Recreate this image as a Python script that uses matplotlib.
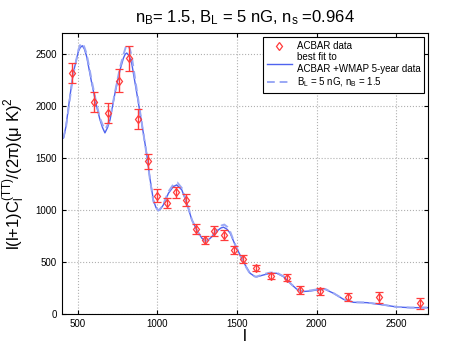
import matplotlib
matplotlib.use("Agg")
import matplotlib.pyplot as plt
from matplotlib.lines import Line2D

plt.rcParams['font.family'] = ['Liberation Sans', 'DejaVu Sans']
plt.rcParams['mathtext.default'] = 'regular'

# ACBAR band powers
acbar_l = [465, 603, 691, 758, 819, 880, 939, 999, 1060, 1119, 1180, 1241, 1300,
           1358, 1421, 1482, 1540, 1618, 1712, 1813, 1897, 2018, 2194, 2392, 2650]
acbar_cl = [2314, 2038, 1930, 2240, 2455, 1875, 1465, 1138, 1064, 1170, 1093, 820, 711,
            798, 760, 615, 526, 442, 365, 349, 231, 218, 163, 160, 103]
acbar_err = [96, 96, 95, 110, 117, 95, 69, 60, 50, 52, 56, 48, 38,
             45, 48, 38, 38, 29, 30, 33, 35, 35, 37, 50, 51]

# best fit ACBAR + WMAP 5-year
fit_l = [400, 410, 425, 450, 471, 503, 515, 528, 541, 555, 587, 618, 639, 655, 670, 686,
         702, 733, 765, 786, 797, 807, 822, 838, 870, 901, 933, 953, 974, 990, 1006,
         1020, 1037, 1069, 1100, 1121, 1153, 1184, 1216, 1247, 1279, 1300, 1320, 1342,
         1383, 1398, 1415, 1436, 1457, 1488, 1519, 1551, 1582, 1613, 1624, 1666, 1708,
         1750, 1792, 1834, 1876, 1908, 1960, 2002, 2054, 2106, 2169, 2232, 2316, 2421,
         2505, 2589, 2704]
fit_cl = [1700, 1690, 1800, 2090, 2317, 2522, 2560, 2577, 2545, 2474, 2218, 1993, 1865,
          1790, 1740, 1790, 1865, 2122, 2346, 2458, 2495, 2507, 2480, 2410, 2122, 1834,
          1530, 1300, 1096, 1025, 993, 1010, 1048, 1160, 1224, 1240, 1192, 1064, 904,
          808, 728, 702, 712, 743, 808, 826, 834, 815, 776, 663, 567, 471, 391, 359,
          357, 375, 391, 391, 359, 295, 237, 215, 221, 231, 237, 199, 141, 112, 109, 87,
          67, 61, 61]

# magnetic field model B_L = 5 nG, n_B = 1.5
mag_l = [400, 410, 425, 450, 471, 503, 513, 525, 539, 555, 587, 618, 639, 656, 672, 688,
         702, 733, 765, 786, 800, 813, 827, 840, 870, 901, 933, 953, 974, 990, 1006,
         1020, 1037, 1069, 1100, 1125, 1153, 1184, 1216, 1247, 1279, 1302, 1322, 1342,
         1383, 1402, 1420, 1440, 1457, 1488, 1519, 1551, 1582, 1613, 1624, 1666, 1708,
         1750, 1792, 1834, 1876, 1908, 1960, 2002, 2054, 2106, 2169, 2232, 2316, 2421,
         2505, 2589, 2704]
mag_cl = [1710, 1700, 1790, 2070, 2300, 2535, 2580, 2603, 2570, 2500, 2240, 2010, 1880,
          1815, 1775, 1820, 1880, 2130, 2370, 2490, 2560, 2587, 2545, 2460, 2150, 1840,
          1520, 1290, 1085, 1020, 995, 1015, 1055, 1175, 1245, 1262, 1210, 1075, 905,
          805, 720, 700, 712, 750, 825, 850, 859, 835, 790, 668, 565, 465, 385, 360,
          360, 382, 398, 396, 362, 296, 238, 218, 226, 236, 240, 200, 142, 113, 110, 88,
          68, 62, 62]

fig = plt.figure(figsize=(4.73, 3.54), dpi=100)
ax = fig.add_axes([0.131, 0.113, 0.774, 0.794])

ax.plot(fit_l, fit_cl, color='#4f63ef', linewidth=1.0)
ax.plot(mag_l, mag_cl, color='#9aa8f5', linewidth=1.4, linestyle='--', dashes=(4, 2.5))
ax.errorbar(acbar_l, acbar_cl, yerr=acbar_err, fmt='d', color='#ff3b3b',
            markerfacecolor='none', markersize=4.5, markeredgewidth=0.9,
            elinewidth=1.0, capsize=3)

ax.set_xlim(400, 2700)
ax.set_ylim(0, 2700)
ax.set_xticks([500, 1000, 1500, 2000, 2500])
ax.set_yticks([0, 500, 1000, 1500, 2000, 2500])
ax.tick_params(direction='in', labelsize=7, top=True, right=True, length=3)
ax.grid(True, linestyle=':', color='#b0b0b0', linewidth=0.8)

ax.set_title('$n_B$= 1.5, $B_L$ = 5 nG, $n_s$ =0.964', fontsize=12, pad=8)
ax.set_xlabel('l', fontsize=12, labelpad=0)
ax.set_ylabel('l(l+1)C$_l^{(TT)}$/(2$\\pi$)($\\mu$ K)$^2$', fontsize=12, labelpad=6)

# legend proxies
h_data = Line2D([], [], linestyle='none', marker='d', color='#ff3b3b',
                markerfacecolor='none', markersize=4.5, markeredgewidth=0.9)
h_fit = Line2D([], [], color='#4f63ef', linewidth=1.0)
h_mag = Line2D([], [], color='#9aa8f5', linewidth=1.4, linestyle='--', dashes=(4, 2.5))
leg = ax.legend([h_data, h_fit, h_mag],
                ['ACBAR data', 'best fit to\nACBAR +WMAP 5-year data',
                 '$B_L$ = 5 nG, $n_B$ = 1.5'],
                loc='upper right', fontsize=7, fancybox=False, framealpha=1,
                edgecolor='black', handlelength=2.6, handletextpad=0.5,
                borderpad=0.4, labelspacing=0.15, borderaxespad=0,
                bbox_to_anchor=(0.99, 0.985))
leg.get_frame().set_linewidth(0.8)

fig.savefig('out.png', dpi=100)
